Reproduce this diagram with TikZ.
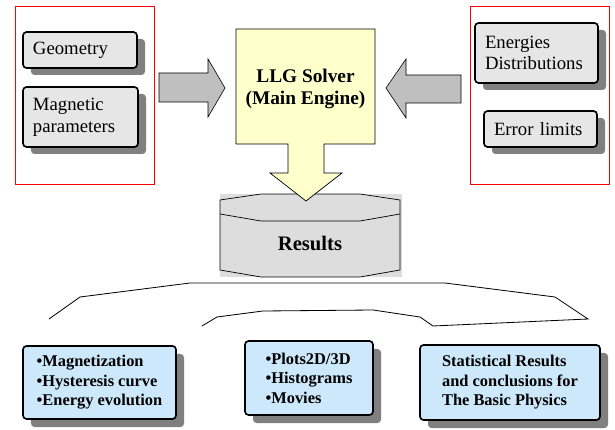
\documentclass[tikz,border=0pt]{standalone}
\usepackage{fontspec}
\setmainfont{Liberation Serif}
\usepackage{tikz}
\usetikzlibrary{arrows,shapes,positioning,shadows}
\usepackage{xcolor}
\definecolor{llgyellow}{RGB}{255,255,204}
\definecolor{llgbox}{RGB}{230,230,230}
\definecolor{llgshadow}{RGB}{128,128,128}
\definecolor{llgblue}{RGB}{204,232,250}
\definecolor{llgarrow}{RGB}{191,191,191}
\definecolor{llgresult}{RGB}{221,221,221}
\tikzstyle{inputbox} = [rectangle, rounded corners=3pt, draw=black, line width=1.4pt, fill=llgbox, align=left, inner xsep=0.3cm, font=\fontsize{16}{18.5}\selectfont, drop shadow={shadow xshift=0.24cm, shadow yshift=-0.21cm, fill=llgshadow, opacity=1}]
\tikzstyle{outputbox} = [rectangle, rounded corners=3pt, draw=black, line width=1.4pt, fill=llgblue, align=left, font=\fontsize{14}{16.6}\selectfont\bfseries, drop shadow={shadow xshift=0.24cm, shadow yshift=-0.24cm, fill=llgshadow, opacity=1}]
\tikzstyle{group} = [draw=red, line width=0.8pt]
\tikzstyle{blockarrow} = [draw=black, line width=0.5pt, fill=llgarrow]

\begin{document}
\begin{tikzpicture}[x=0.03cm, y=-0.03cm]
\useasboundingbox (0,0) rectangle (615,430);

% Input groups
\draw[group] (15,6) rectangle (154,184);
\draw[group] (470,6) rectangle (609,184);

% Input parameters
\node[inputbox, text width=2.82cm, minimum height=1.08cm] (geom) at (80,50) {Geometry};
\node[inputbox, text width=2.85cm, minimum height=1.8cm] (magn) at (80.5,117) {Magnetic\\parameters};
\node[inputbox, text width=3.09cm, minimum height=1.8cm] (ener) at (536.5,53) {Energies\\Distributions};
\node[inputbox, text width=2.79cm, minimum height=1.08cm] (err) at (540.5,129) {Error limits};

% Block arrows into the solver
\draw[blockarrow] (159,73) -- (208,73) -- (208,59) -- (225,88) -- (208,117) -- (208,102) -- (159,102) -- cycle;
\draw[blockarrow] (461,75) -- (406,75) -- (406,59) -- (386,88) -- (406,118) -- (406,103) -- (461,103) -- cycle;

% Results store
\fill[llgresult] (220,194) rectangle (402,277);
\draw[line width=0.6pt] (220,200) -- (261,194) -- (360,194) -- (400,200) -- (400,270) -- (360,277) -- (261,277) -- (220,270) -- cycle;
\draw[line width=0.6pt] (220,214) -- (261,221) -- (360,221) -- (400,214);
\node[font=\fontsize{17.6}{20}\selectfont\bfseries] (results) at (310,243) {Results};

% Solver with its output arrow
\draw[line width=0.6pt, fill=llgyellow] (236,29) -- (375,29) -- (375,144) -- (324,144) -- (324,173) -- (342,173) -- (306,201) -- (270,173) -- (288,173) -- (288,144) -- (236,144) -- cycle;
\node[align=center, font=\fontsize{16.5}{18.8}\selectfont\bfseries] (solver) at (305.5,89) {LLG Solver\\(Main Engine)};

% Split of the results
\draw[line width=0.7pt] (49,319) -- (80,297) -- (190,283) -- (445,283) -- (555,297) -- (588,319) -- (433,326) -- (420,317) -- (373,310) -- (263,311) -- (217,317) -- (202,326);

% Outputs
\node[outputbox, minimum width=4.59cm, minimum height=2.19cm] (magout) at (99.5,382.5) {•Magnetization\\•Hysteresis curve\\•Energy evolution};
\node[outputbox, minimum width=3.84cm, minimum height=2.22cm] (plots) at (309,378) {•Plots2D/3D\\•Histograms\\•Movies};
\node[outputbox, minimum width=5.4cm, minimum height=2.25cm] (stats) at (510,382.5) {Statistical Results\\and conclusions for\\The Basic Physics};
\end{tikzpicture}
\end{document}
